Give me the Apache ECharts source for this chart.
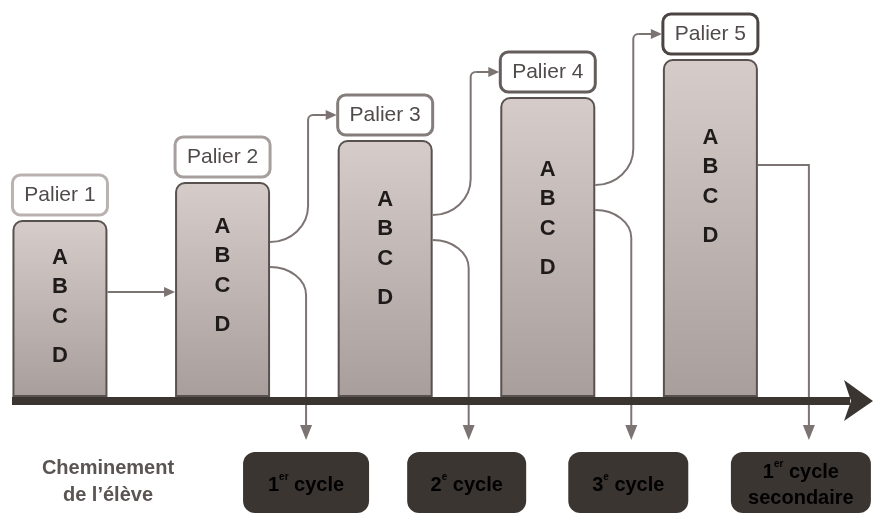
<!DOCTYPE html>
<html>
<head>
<meta charset="utf-8">
<script src="https://cdn.jsdelivr.net/npm/echarts@6/dist/echarts.min.js"></script>
<style>
html,body{margin:0;padding:0;background:#fff;}
#chart{width:873px;height:515px;}
</style>
</head>
<body>
<div id="chart"></div>
<script>
// ---- data ----
const categories = ['Palier 1', 'Palier 2', 'Palier 3', 'Palier 4', 'Palier 5'];
const levelHeights = [177, 215, 257, 300, 338];
const letters = ['A', 'B', 'C', 'D'];
const cycleMain = ['1', '2', '3', '1'];
const cycleSup = ['er', 'e', 'e', 'er'];
const cycleRest = [' cycle', ' cycle', ' cycle', ' cycle'];
const cycleLine2 = ['', '', '', 'secondaire'];
const pathLabel = ['Cheminement', 'de l\u2019élève'];

// ---- layout/style constants ----
const BAR_W = 95;
const FONT = 'Liberation Sans, Arial, sans-serif';
const boxBorder = ['#bab2b0', '#a79f9d', '#857d7b', '#645d5b', '#4a4442'];
const letterTopOffset = [38, 45, 60, 73, 79];
const letterSpacing = [0, 29, 59, 98];
const ARROW = '#7c7472';
const DARK = '#3b3532';

const chart = echarts.init(document.getElementById('chart'), null, {renderer: 'canvas'});
chart.setOption({
  animation: false,
  backgroundColor: '#ffffff',
  grid: {left: 0, top: 0, right: 0, bottom: 118},
  xAxis: {type: 'value', min: -0.3687, max: 5.0, show: false},
  yAxis: {type: 'value', min: 0, max: 397, show: false},
  series: [{
    type: 'bar',
    data: levelHeights.map((h, i) => [i, h]),
    barWidth: BAR_W,
    itemStyle: {
      color: new echarts.graphic.LinearGradient(0, 0, 0, 1, [
        {offset: 0, color: '#d6ccc9'},
        {offset: 1, color: '#a89f9c'}
      ]),
      borderColor: '#58514f',
      borderWidth: 2,
      borderRadius: [9, 9, 0, 0]
    }
  }]
});

const g = [];
const P = [];
for (let i = 0; i < categories.length; i++) {
  const top = chart.convertToPixel({gridIndex: 0}, [i, levelHeights[i]]);
  const base = chart.convertToPixel({gridIndex: 0}, [i, 0]);
  P.push({cx: top[0], top: top[1], base: base[1], l: top[0] - BAR_W / 2, r: top[0] + BAR_W / 2});
}

const LS = {stroke: ARROW, lineWidth: 2, fill: null};
function line(points) {
  g.push({type: 'polyline', shape: {points: points}, style: LS, z: 5});
}
function curve(x1, y1, cx1, cy1, cx2, cy2, x2, y2) {
  g.push({type: 'bezierCurve', shape: {x1: x1, y1: y1, cpx1: cx1, cpy1: cy1, cpx2: cx2, cpy2: cy2, x2: x2, y2: y2}, style: LS, z: 5});
}
function headRight(x, y) {
  g.push({type: 'polygon', shape: {points: [[x, y], [x - 11, y - 5], [x - 11, y + 5]]}, style: {fill: ARROW}, z: 6});
}
function headDown(x, y) {
  g.push({type: 'polygon', shape: {points: [[x, y], [x - 6, y - 15], [x + 6, y - 15]]}, style: {fill: ARROW}, z: 6});
}

// palier boxes and letters
P.forEach((p, i) => {
  g.push({type: 'rect', shape: {x: p.l, y: p.top - 45, width: BAR_W, height: 40, r: 8},
    style: {fill: '#fff', stroke: boxBorder[i], lineWidth: 3}, z: 4});
  g.push({type: 'text', x: p.cx, y: p.top - 25, style: {text: categories[i], fill: '#504b4a',
    font: '21px ' + FONT, textAlign: 'center', textVerticalAlign: 'middle'}, z: 7});
  letters.forEach((L, j) => {
    g.push({type: 'text', x: p.cx, y: p.top + letterTopOffset[i] + letterSpacing[j],
      style: {text: L, fill: '#1f1b1b', font: 'bold 22px ' + FONT, textAlign: 'center', textVerticalAlign: 'middle'}, z: 7});
  });
});

// arrows
const K = 0.5523;
const DOWN_TIP = 440;
{
  const y = P[0].top + letterTopOffset[0] + 34;
  line([[P[0].r, y], [P[1].l - 8, y]]);
  headRight(P[1].l, y);
}
const downXs = [];
for (let i = 1; i <= 3; i++) {
  const p = P[i], n = P[i + 1];
  const aY = p.top + letterTopOffset[i];
  const xv = p.r + 38;
  const ys = aY + 15, ry = 36, rx = xv - p.r;
  const yb = n.top - 25;
  const rc = 5;
  curve(p.r, ys, p.r + K * rx, ys, xv, ys - ry + K * ry, xv, ys - ry);
  line([[xv, ys - ry], [xv, yb + rc]]);
  curve(xv, yb + rc, xv, yb + rc - K * rc, xv + rc - K * rc, yb, xv + rc, yb);
  line([[xv + rc, yb], [n.l - 9, yb]]);
  headRight(n.l - 1, yb);
  const yd = aY + 40, ry2 = 28;
  const xd = xv - 2;
  const rx2 = xd - p.r;
  curve(p.r, yd, p.r + K * rx2, yd, xd, yd + ry2 - K * ry2, xd, yd + ry2);
  line([[xd, yd + ry2], [xd, DOWN_TIP - 12]]);
  headDown(xd, DOWN_TIP);
  downXs.push(xd);
}
{
  const p = P[4];
  const y = p.top + letterTopOffset[4] + 27;
  const xd = p.r + 51;
  line([[p.r, y], [xd, y], [xd, DOWN_TIP - 12]]);
  headDown(xd, DOWN_TIP);
  downXs.push(xd);
}

// time axis arrow
{
  const yb = P[0].base;
  g.push({type: 'rect', shape: {x: 12, y: yb, width: 838, height: 8}, style: {fill: DARK}, z: 8});
  g.push({type: 'polygon', shape: {points: [[844, yb - 17], [873, yb + 4], [844, yb + 24], [851, yb + 4]]}, style: {fill: DARK}, z: 8});
}

// cycle boxes
const cycW = [126, 119, 120, 140];
const cycShift = [0, -2, -3, -8];
downXs.forEach((x, i) => {
  const cx = x + cycShift[i];
  const w = cycW[i];
  g.push({type: 'rect', shape: {x: cx - w / 2, y: 452, width: w, height: 61, r: 12}, style: {fill: DARK}, z: 3});
  const rich = {
    n: {fontSize: 20, fontWeight: 'bold', fontFamily: FONT, color: '#fff', lineHeight: 26},
    s: {fontSize: 10, fontWeight: 'bold', fontFamily: FONT, color: '#fff', verticalAlign: 'top', lineHeight: 24}
  };
  let txt = '{n|' + cycleMain[i] + '}{s|' + cycleSup[i] + '}{n|' + cycleRest[i] + '}';
  if (cycleLine2[i]) txt += '\n{n|' + cycleLine2[i] + '}';
  g.push({type: 'text', x: cx, y: 485, style: {text: txt, rich: rich, textAlign: 'center', textVerticalAlign: 'middle'}, z: 7});
});

g.push({type: 'text', x: 108, y: 482, style: {text: pathLabel.join('\n'), fill: '#5a5452',
  font: 'bold 20px ' + FONT, textAlign: 'center', textVerticalAlign: 'middle', lineHeight: 27}, z: 7});

chart.setOption({graphic: g});
</script>
</body>
</html>
